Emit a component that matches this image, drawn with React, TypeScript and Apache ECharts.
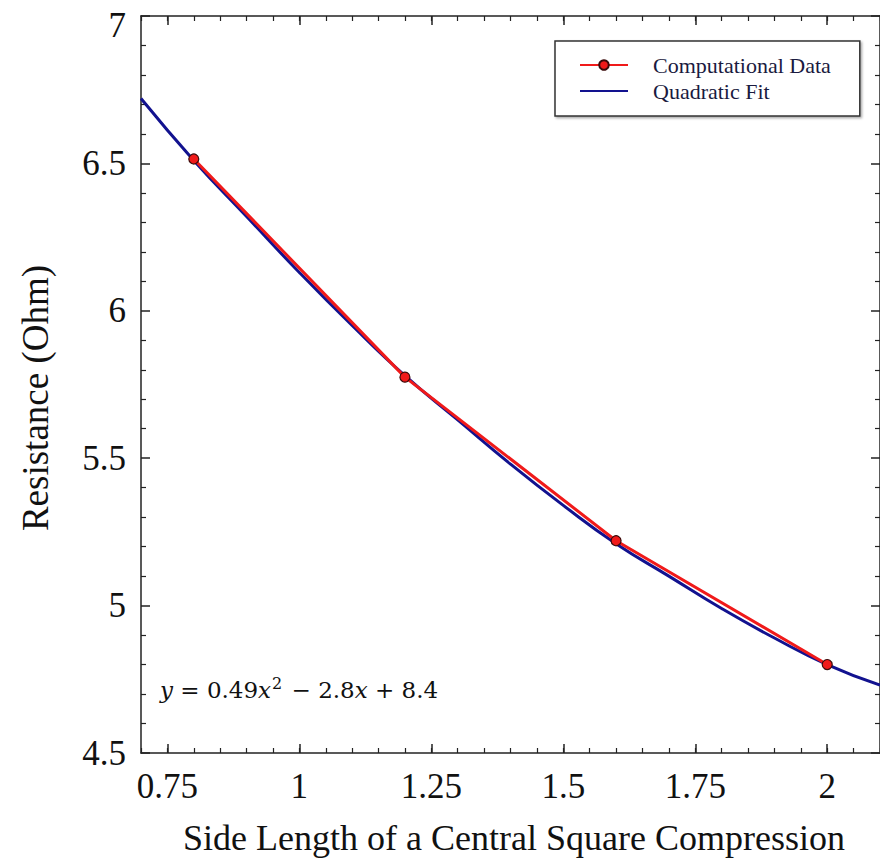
import React, { useEffect, useRef } from 'react';
import * as echarts from 'echarts';

// Computational data points
const dataX = [0.8, 1.2, 1.6, 2.0];
const dataY = [6.515, 5.775, 5.22, 4.8];

// Quadratic fit curve
const fitX = [0.7, 0.8, 0.9, 1.0, 1.1, 1.2, 1.3, 1.4, 1.5, 1.6, 1.7, 1.8, 1.9, 2.0, 2.1];
const fitY = [6.72, 6.51, 6.32, 6.13, 5.95, 5.78, 5.63, 5.48, 5.34, 5.21, 5.1, 4.99, 4.89, 4.8, 4.73];

// Axis ticks
const xMajorTicks = [0.75, 1, 1.25, 1.5, 1.75, 2];
const xMin = 0.7;
const xMax = 2.1;
const xMinorInterval = 0.05;
const yMin = 4.5;
const yMax = 7;
const yInterval = 0.5;

const seriesNames = ['Computational Data', 'Quadratic Fit'];
const xTitle = 'Side Length of a Central Square Compression';
const yTitle = 'Resistance (Ohm)';

const SERIF = '"Liberation Serif", "Times New Roman", serif';
const MATH = '"DejaVu Serif", serif';
const AXIS_COLOR = '#222';
const RED = '#f01a1a';
const BLUE = '#12128f';

export default function App() {
  const ref = useRef<HTMLDivElement>(null);

  useEffect(() => {
    if (!ref.current) return;
    const chart = echarts.init(ref.current, undefined, { renderer: 'svg' });

    const majorX = (position: 'top' | 'bottom', labels: boolean) => ({
      type: 'value',
      position,
      min: xMin,
      max: xMax,
      axisLine: { show: true, onZero: false, lineStyle: { color: AXIS_COLOR, width: 1.5 } },
      axisTick: { show: true, inside: true, length: 9, customValues: xMajorTicks, lineStyle: { color: AXIS_COLOR, width: 1.5 } },
      axisLabel: labels
        ? { show: true, customValues: xMajorTicks, fontSize: 35, fontFamily: SERIF, color: '#111', margin: 16 }
        : { show: false },
      splitLine: { show: false },
    });
    const minorX = (position: 'top' | 'bottom') => ({
      type: 'value',
      position,
      min: xMin,
      max: xMax,
      interval: xMinorInterval,
      axisLine: { show: false, onZero: false },
      axisTick: { show: true, inside: true, length: 5, lineStyle: { color: AXIS_COLOR, width: 1.2 } },
      axisLabel: { show: false },
      splitLine: { show: false },
    });
    const yAx = (position: 'left' | 'right', labels: boolean) => ({
      type: 'value',
      position,
      min: yMin,
      max: yMax,
      interval: yInterval,
      axisLine: { show: true, onZero: false, lineStyle: { color: AXIS_COLOR, width: 1.5 } },
      axisTick: { show: true, inside: true, length: 9, lineStyle: { color: AXIS_COLOR, width: 1.5 } },
      minorTick: { show: true, splitNumber: 5, length: 5, lineStyle: { color: AXIS_COLOR, width: 1.2 } },
      axisLabel: labels
        ? {
            show: true,
            fontSize: 35,
            fontFamily: SERIF,
            color: '#111',
            margin: 15,
            formatter: (v: number) => (v === yMax ? `{t|${v}}` : `{n|${v}}`),
            rich: {
              t: { fontSize: 35, fontFamily: SERIF, color: '#111', padding: [18, 0, 0, 0] },
              n: { fontSize: 35, fontFamily: SERIF, color: '#111' },
            },
          }
        : { show: false },
      splitLine: { show: false },
      minorSplitLine: { show: false },
    });

    chart.setOption({
      animation: false,
      backgroundColor: '#fff',
      grid: { left: 141, top: 16, width: 742, height: 737, containLabel: false },
      xAxis: [majorX('bottom', true), minorX('bottom'), majorX('top', false), minorX('top')],
      yAxis: [yAx('left', true), yAx('right', false)],
      legend: {
        left: 555,
        top: 41,
        orient: 'vertical',
        data: [seriesNames[0], { name: seriesNames[1], itemStyle: { opacity: 0 } }],
        itemWidth: 48,
        itemHeight: 12,
        itemGap: 4,
        padding: [13, 29, 14, 24],
        backgroundColor: '#fff',
        borderColor: '#333',
        borderWidth: 1.5,
        borderRadius: 0,
        shadowColor: 'rgba(0,0,0,0.35)',
        shadowBlur: 2,
        shadowOffsetX: 1.5,
        shadowOffsetY: 1.5,
        textStyle: { fontSize: 22, fontFamily: SERIF, color: '#1a1a40', padding: [0, 0, 0, 20] },
      },
      series: [
        {
          name: seriesNames[1],
          type: 'line',
          xAxisIndex: 0,
          yAxisIndex: 0,
          data: fitX.map((x, i) => [x, fitY[i]]),
          smooth: true,
          symbol: 'none',
          lineStyle: { color: BLUE, width: 3 },
          itemStyle: { color: BLUE },
          z: 2,
        },
        {
          name: seriesNames[0],
          type: 'line',
          xAxisIndex: 0,
          yAxisIndex: 0,
          data: dataX.map((x, i) => [x, dataY[i]]),
          symbol: 'circle',
          symbolSize: 10,
          showSymbol: true,
          lineStyle: { color: RED, width: 3 },
          itemStyle: { color: RED, borderColor: '#3a0a0a', borderWidth: 1.2 },
          z: 3,
        },
      ],
      graphic: [
        {
          type: 'text',
          x: 35,
          y: 398,
          rotation: Math.PI / 2,
          style: {
            text: yTitle,
            fontSize: 37,
            fontFamily: SERIF,
            fill: '#111',
            align: 'center',
            verticalAlign: 'middle',
          },
        },
        {
          type: 'text',
          x: 514,
          y: 838,
          style: {
            text: xTitle,
            fontSize: 36,
            fontFamily: SERIF,
            fill: '#111',
            align: 'center',
            verticalAlign: 'middle',
          },
        },
        {
          type: 'text',
          x: 160,
          y: 690,
          style: {
            text: '{i|y} = 0.49{i|x}{sup|2} − 2.8{i|x} + 8.4',
            fontSize: 23,
            fontFamily: MATH,
            fill: '#111',
            align: 'left',
            verticalAlign: 'middle',
            rich: {
              i: { fontSize: 23, fontFamily: MATH, fontStyle: 'italic', fill: '#111' },
              sup: { fontSize: 16, fontFamily: MATH, fill: '#111', padding: [0, 2, 14, 1] },
            },
          },
        },
      ],
    });

    return () => chart.dispose();
  }, []);

  return (
    <div
      ref={ref}
      style={{ position: 'absolute', left: 0, top: 0, width: 880, height: 861 }}
    />
  );
}
